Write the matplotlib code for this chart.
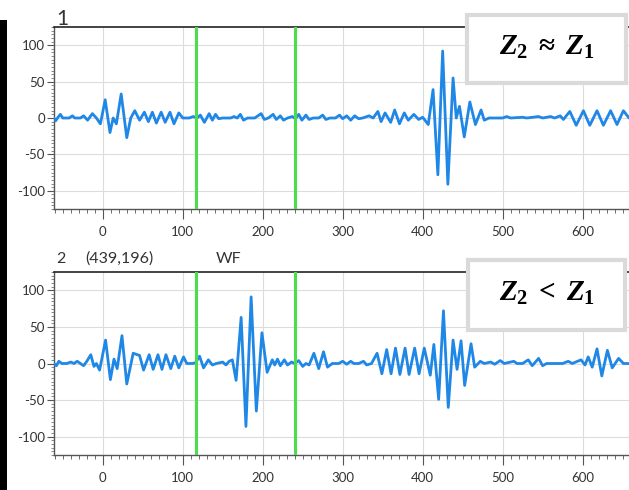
import matplotlib
matplotlib.use("Agg")
import matplotlib.pyplot as plt
from matplotlib.patches import Rectangle
from matplotlib.ticker import MultipleLocator

plt.rcParams['font.family'] = ['Lato', 'DejaVu Sans']
plt.rcParams['axes.unicode_minus'] = False
plt.rcParams['mathtext.fontset'] = 'custom'
plt.rcParams['mathtext.it'] = 'Liberation Serif:italic:bold'
plt.rcParams['mathtext.rm'] = 'Liberation Serif:bold'
plt.rcParams['mathtext.bf'] = 'Liberation Serif:bold'

# trace 1: turning points of the waveform (sample, amplitude)
trace1_x = [-61, -59, -56, -53, -50, -42, -38, -35, -28, -24, -19, -13, -8, -3,
            3, 9, 13, 17, 23, 30, 35, 40, 46, 52, 57, 62, 67, 73, 78, 84, 89, 95,
            100, 108, 113, 118, 122, 127, 133, 137, 141, 145, 150, 160, 164, 168,
            172, 176, 181, 190, 198, 202, 207, 213, 217, 222, 226, 231, 237, 241,
            245, 249, 254, 258, 263, 270, 275, 279, 284, 291, 296, 300, 305, 310,
            315, 320, 325, 333, 338, 344, 348, 353, 360, 365, 371, 377, 382, 389,
            395, 400, 407, 413, 419, 425, 431.5, 438, 442, 446, 452, 459, 466, 473,
            477, 483, 500, 505, 510, 525, 530, 545, 550, 560, 565, 572, 576, 584,
            592, 601, 609, 618, 626, 635, 643, 651, 658]
trace1_y = [0, -4, 1, 5, 0, 0, 3, 0, 0, 3, -3, 6, 0, -8,
            25, -20, 0, -8, 33, -27, 0, 10, -3, 8, -5, 8, -7, 8, -6, 8, -8, 7,
            0, 0, 2, 0, 4, -6, 6, -3, 5, -1, 0, 0, 2, 0,
            5, -3, 0, 0, 6, -2, 0, 5, -2, 3, -3, 0, 2, -1,
            5, -3, 4, -2, 0, 0, 4, -2, 0, 0, 4, -1, 3, -3,
            3, -1, 0, 3, 0, 9, -5, 7, -6, 11, -8, 7, -3, 5,
            -2, 1, -9, 39, -78, 92, -91, 55, 0, 16, -26, 22, -9, 11,
            -3, 0, 0, 2, 0, 1, 0, 2, 0, 2, 0, 3, -2, 9,
            -10, 10, -10, 10, -10, 10, -9, 10, 0]

# trace 2
trace2_x = [-61, -58, -55, -51, -45, -40, -36, -32, -28, -24, -20, -15, -11, -8, -4,
            3.5, 9.5, 14, 18, 24, 30, 38, 46, 51, 58, 63, 69, 74, 79, 85, 90, 95,
            101, 105, 112, 116, 121, 126, 132, 137, 142, 150, 154, 158, 162,
            166.7, 173, 179, 185.5, 192, 199, 205.5, 212, 215, 218.5, 222, 227,
            231, 236, 240, 245, 250, 254, 258, 264, 270, 276, 281, 287, 295, 300,
            305, 310, 314, 320, 326, 330, 336, 343, 349, 355, 360.5, 366, 371.5,
            378, 383, 390, 395.5, 402, 409.5, 414, 420, 426, 432, 438, 443, 448,
            452.5, 460.5, 465, 472, 477, 485, 490, 497, 502, 514, 518, 525, 532,
            537, 545, 550, 555, 575, 582, 587, 598, 603, 607, 612, 618, 624, 631,
            637, 645, 651, 658]
trace2_y = [0, -3, 3, 0, 0, 2, 0, 3, 0, -3, 3, 12, -4, 0, -9,
            32, -22, 6, -7, 38, -28, 14, 11, -9, 12, -8, 12, -8, 12, -7, 10, -6,
            9, 0, 0, 1, 10, -6, 5, -2, 0, 2, -2, 3, 5,
            -23, 63, -86, 91, -65, 42, -12, 5, -2, 6, -3, 5,
            -2, 2, 0, 4, -4, 0, -2, 14, -7, 16, -5, 0, 0, 3,
            -1, 3, 0, 0, 3, -2, 0, 14, -14, 19, -14, 21, -15,
            21, -15, 21, -14, 21, -16, 26, -49, 72, -60, 32, -8, 31,
            -30, 27, -5, 3, 0, 2, -1, 4, 0, 3, 0, 0, 5,
            -3, 7, -3, 0, 0, 3, 0, 5, -2, 9, -5, 20, -17, 18,
            -6, 7, 0, 0]

gates = [116, 240]
x_range = (-61, 658)
y_range = (-125, 125)

fig = plt.figure(figsize=(6.29, 4.90), dpi=100)
W, H = 629, 490


def px_axes(left, top, right, bottom):
    return fig.add_axes([left / W, 1 - bottom / H, (right - left) / W, (bottom - top) / H])


def style(ax, xs, ys):
    ax.plot(xs, ys, color='#1f87e5', lw=2.0, solid_joinstyle='round',
            solid_capstyle='round', zorder=3)
    for g in gates:
        ax.axvline(g, color='#4ade4a', lw=2.2, zorder=4)
    ax.set_xlim(*x_range)
    ax.set_ylim(*y_range)
    ax.xaxis.set_major_locator(MultipleLocator(100))
    ax.xaxis.set_minor_locator(MultipleLocator(10))
    ax.yaxis.set_major_locator(MultipleLocator(50))
    ax.yaxis.set_minor_locator(MultipleLocator(5))
    ax.grid(True, which='major', color='#dcdcdc', lw=0.8, zorder=0)
    ax.tick_params(axis='x', which='major', length=7.5, width=0.8, pad=5,
                   labelsize=9.5, colors='#555555', labelcolor='#333333')
    ax.tick_params(axis='x', which='minor', length=3, width=0.6, colors='#555555')
    ax.tick_params(axis='y', which='major', length=5, width=0.8, pad=1.5,
                   labelsize=9.5, colors='#555555', labelcolor='#333333')
    ax.tick_params(axis='y', which='minor', length=2.5, width=0.6, colors='#777777')
    ax.spines['right'].set_visible(False)
    ax.spines['top'].set_color('#222222')
    ax.spines['top'].set_linewidth(1.2)
    for s in ('left', 'bottom'):
        ax.spines[s].set_color('#555555')
        ax.spines[s].set_linewidth(1.0)


ax1 = px_axes(54, 27, 629, 209)
style(ax1, trace1_x, trace1_y)
ax2 = px_axes(54, 272, 629, 455)
style(ax2, trace2_x, trace2_y)

# panel headers
fig.text(56 / W, 1 - 25 / H, '1', fontsize=15, color='#333333', va='baseline')
fig.text(56 / W, 1 - 263 / H, '2', fontsize=11.5, color='#333333', va='baseline')
fig.text(85 / W, 1 - 263 / H, '(439,196)', fontsize=11.5, color='#333333', va='baseline')
fig.text(216 / W, 1 - 263 / H, 'WF', fontsize=11.5, color='#333333', va='baseline')

# labelled boxes
for (l, t, r, b), label in [((467, 15, 626, 83), r'$Z_2 \;\approx\; Z_1$'),
                            ((468, 260, 625, 330), r'$Z_2 \;<\; Z_1$')]:
    fig.add_artist(Rectangle((l / W, 1 - b / H), (r - l) / W, (b - t) / H,
                             transform=fig.transFigure, facecolor='white',
                             edgecolor='#dadada', lw=3, zorder=10))
    fig.text((l + r) / 2 / W, 1 - (t + b - 4) / 2 / H, label, fontsize=21,
             ha='center', va='center', color='black', zorder=11)

# dark strip along the left edge
fig.add_artist(Rectangle((0, 0), 7 / W, 470 / H, transform=fig.transFigure,
                         facecolor='black', edgecolor='none'))

fig.savefig('out.png', dpi=100)
